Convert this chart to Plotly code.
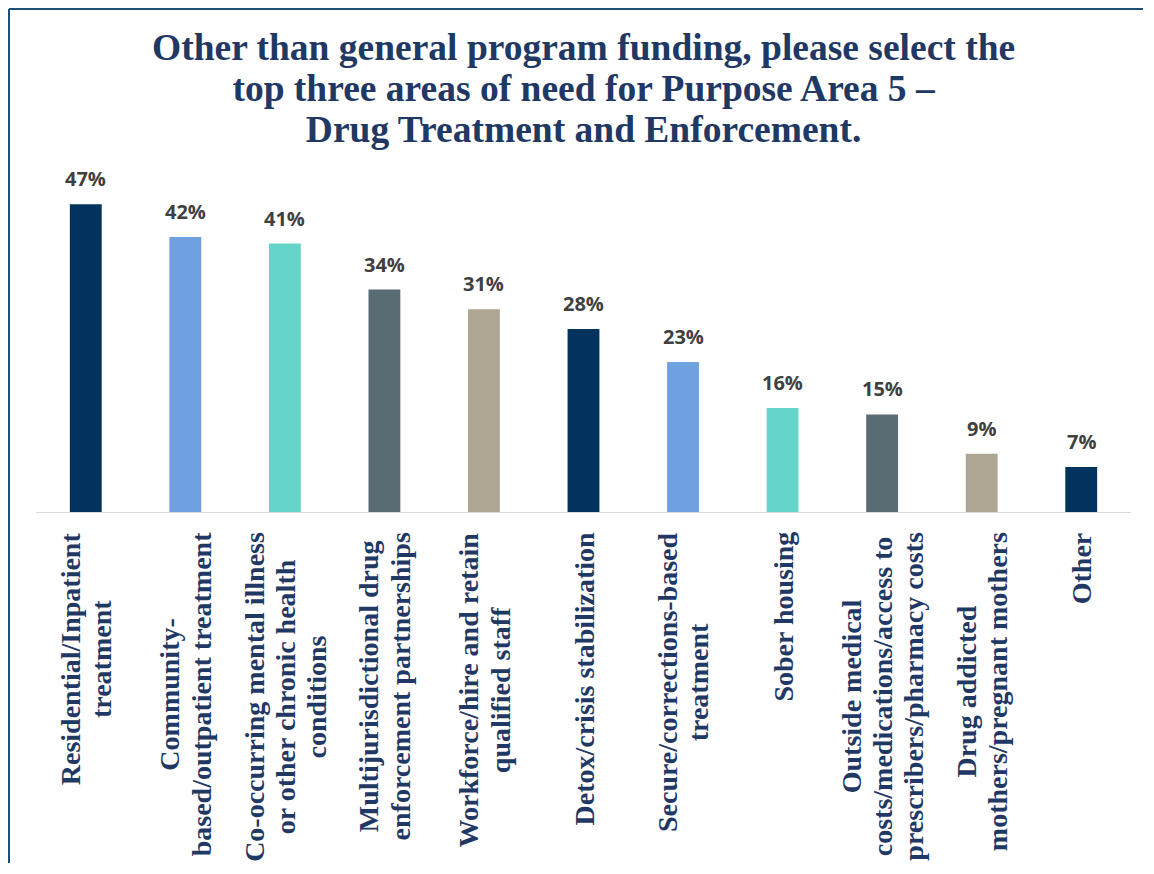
import plotly.graph_objects as go

categories = [
    "Residential/Inpatient<br>treatment",
    "Community-<br>based/outpatient treatment",
    "Co-occurring mental illness<br>or other chronic health<br>conditions",
    "Multijurisdictional drug<br>enforcement partnerships",
    "Workforce/hire and retain<br>qualified staff",
    "Detox/crisis stabilization",
    "Secure/corrections-based<br>treatment",
    "Sober housing",
    "Outside medical<br>costs/medications/access to<br>prescribers/pharmacy costs",
    "Drug addicted<br>mothers/pregnant mothers",
    "Other",
]
values = [47, 42, 41, 34, 31, 28, 23, 16, 15, 9, 7]
value_labels = ["47%", "42%", "41%", "34%", "31%", "28%", "23%", "16%", "15%", "9%", "7%"]
palette = ["#02335f", "#6fa1e0", "#66d5c9", "#596b73", "#aca693"]
title_lines = [
    "Other than general program funding, please select the",
    "top three areas of need for Purpose Area 5 \u2013",
    "Drug Treatment and Enforcement.",
]

# page has an 8px body margin; keep the figure inside the 1154x874 window
OFF = 8
W, H = 1154 - 2 * OFF, 874 - 2 * OFF
PLOT_L, PLOT_R, PLOT_T, BASE = 36, 1131, 150, 513   # page pixel positions
ML = PLOT_L - OFF
MR = W - (PLOT_R - OFF)
MT = PLOT_T - OFF
MB = H - (BASE - OFF)
plot_w = PLOT_R - PLOT_L
plot_h = BASE - PLOT_T
ymax = 55.25

def px_to_paper_x(px):
    return (px - PLOT_L) / plot_w

def px_to_paper_y(py):
    return (BASE - py) / plot_h

xs = list(range(len(categories)))
colors = [palette[i % len(palette)] for i in xs]

fig = go.Figure()
fig.add_trace(go.Bar(
    x=xs, y=values, marker=dict(color=colors, line=dict(width=0)),
    width=0.32, hoverinfo="skip",
))

annotations = []
for i, (v, lab) in enumerate(zip(values, value_labels)):
    annotations.append(dict(
        x=i, y=v, xref="x", yref="y", text=lab, showarrow=False,
        xanchor="center", yanchor="bottom", yshift=10,
        font=dict(family="Open Sans", size=20, color="#404040", weight="bold"),
    ))

serif = "Liberation Serif, Times New Roman, serif"
for i, c in enumerate(categories):
    annotations.append(dict(
        x=i, y=0, xref="x", yref="y",
        text='<span style="font-size:28px">' + c.replace("<br>", '</span><br><span style="font-size:28px">') + "</span>",
        showarrow=False, textangle=-90, align="center",
        xanchor="center", yanchor="top", yshift=-17,
        font=dict(family=serif, size=24, color="#1f3864", weight="bold"),
    ))

title_text = "<br>".join('<span style="font-size:37.5px">' + t + "</span>" for t in title_lines)
annotations.append(dict(
    x=0.5, y=px_to_paper_y(25), xref="paper", yref="paper",
    text=title_text, showarrow=False, align="center",
    xanchor="center", yanchor="top",
    font=dict(family=serif, size=31.5, color="#1f3864", weight="bold"),
))

frame = dict(color="#1f4e79", width=2)
fig.update_layout(
    width=W, height=H,
    margin=dict(l=ML, r=MR, t=MT, b=MB, autoexpand=False),
    paper_bgcolor="white", plot_bgcolor="white",
    showlegend=False,
    annotations=annotations,
    xaxis=dict(range=[-0.5, len(categories) - 0.5], showticklabels=False, ticks="",
               showgrid=False, zeroline=False, showline=False, fixedrange=True),
    yaxis=dict(range=[0, ymax], visible=False, showgrid=False, zeroline=False, fixedrange=True),
    shapes=[
        dict(type="line", xref="paper", yref="y", x0=0, x1=1, y0=0, y1=0,
             line=dict(color="#d9d9d9", width=2), layer="above"),
        dict(type="line", xref="paper", yref="paper",
             x0=px_to_paper_x(9), x1=px_to_paper_x(1143),
             y0=px_to_paper_y(9), y1=px_to_paper_y(9), line=frame),
        dict(type="line", xref="paper", yref="paper",
             x0=px_to_paper_x(9), x1=px_to_paper_x(9),
             y0=px_to_paper_y(9), y1=px_to_paper_y(863), line=frame),
    ],
)

fig.write_html("out.html")
